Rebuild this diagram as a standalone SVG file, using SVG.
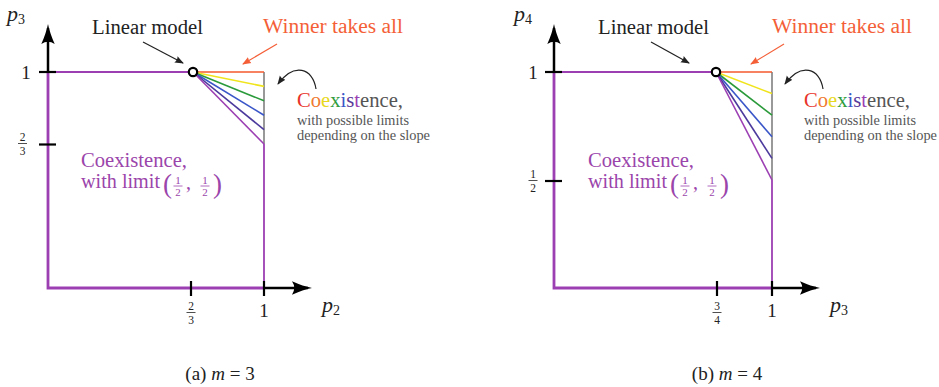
<svg xmlns="http://www.w3.org/2000/svg" width="939" height="387" viewBox="0 0 939 387" font-family="'Liberation Serif', 'DejaVu Serif', 'Times New Roman', serif">
<defs>
<style>
text{font-family:'Liberation Serif','DejaVu Serif','Times New Roman',serif;}
.t20{font-size:20px;}
.blk{fill:#222;}
.pur{fill:#9b45ab;}
.org{fill:#f45f38;}
.gry{fill:#555;font-size:14px;}
.it{font-style:italic;font-size:22px;fill:#222;}
.sub{font-size:14px;font-style:normal;}
.num{font-size:19px;fill:#222;text-anchor:middle;}
.fr{font-size:11.5px;fill:#222;text-anchor:middle;}
.frp{font-size:11px;fill:#9b45ab;text-anchor:middle;}
.cap{font-size:19px;fill:#222;text-anchor:middle;}
.par{font-size:27px;fill:#9b45ab;}
.axis{stroke:#000;stroke-width:2.5;fill:none;}
.tick{stroke:#000;stroke-width:2.2;}
.frame{stroke:#9c3fb3;stroke-width:2.8;fill:none;stroke-linejoin:miter;}
.thin{stroke:#9c3fb3;stroke-width:1.8;fill:none;}
.edge{stroke:#777;stroke-width:1.5;}
.ray{stroke-width:1.6;fill:none;}
.bar{stroke:#222;stroke-width:0.8;}
.barp{stroke:#9b45ab;stroke-width:0.8;}
.pt{fill:#fff;stroke:#000;stroke-width:2.2;}
.ann{stroke:#222;stroke-width:1.2;fill:none;}
.annO{stroke:#f45f38;stroke-width:1.2;fill:none;}
</style>
<marker id="ah" markerUnits="userSpaceOnUse" markerWidth="22" markerHeight="16" refX="16" refY="8" orient="auto">
<path d="M20,8 Q11,6.2 0,1.3 Q4.5,8 0,14.7 Q11,9.8 20,8Z" fill="#000"/>
</marker>
<marker id="sa" markerUnits="userSpaceOnUse" markerWidth="10" markerHeight="8" refX="8" refY="4" orient="auto">
<path d="M0,0.5 L9,4 L0,7.5 Q2,4 0,0.5Z" fill="#222"/>
</marker>
<marker id="so" markerUnits="userSpaceOnUse" markerWidth="10" markerHeight="8" refX="8" refY="4" orient="auto">
<path d="M0,0.5 L9,4 L0,7.5 Q2,4 0,0.5Z" fill="#f45f38"/>
</marker>
</defs>

<!-- Panel (a) -->
<g id="panel-a">
  <g id="a-region">
    <line class="edge" x1="264" y1="72" x2="264" y2="144"/>
    <line class="thin" x1="264" y1="144" x2="264" y2="288"/>
    <line class="thin" x1="48" y1="72" x2="193" y2="72"/>
    <line class="ray" stroke="#f4582c" x1="193" y1="72" x2="264" y2="72"/>
    <line class="ray" stroke="#f0e41c" x1="193" y1="72" x2="264" y2="86.4"/>
    <line class="ray" stroke="#2a9a3a" x1="193" y1="72" x2="264" y2="100.8"/>
    <line class="ray" stroke="#3a56c8" x1="193" y1="72" x2="264" y2="115.2"/>
    <line class="ray" stroke="#4c3a9c" x1="193" y1="72" x2="264" y2="129.6"/>
    <line class="ray" stroke="#9c3fb3" x1="193" y1="72" x2="264" y2="144"/>
  </g>
  <g id="a-axes">
    <line class="axis" x1="48" y1="72" x2="48" y2="28" marker-end="url(#ah)"/>
    <line class="axis" x1="264" y1="288" x2="308" y2="288" marker-end="url(#ah)"/>
    <polyline class="frame" points="48,72 48,288 264,288"/>
    <line class="tick" x1="39" y1="72" x2="56" y2="72"/>
    <line class="tick" x1="39" y1="144.5" x2="56" y2="144.5"/>
    <line class="tick" x1="191" y1="281" x2="191" y2="296"/>
    <line class="tick" x1="264" y1="281" x2="264" y2="296"/>
    <circle class="pt" cx="193" cy="72" r="4.2"/>
  </g>
  <g id="a-ticklabels">
    <text class="it" x="7" y="21">p<tspan class="sub" dy="3">3</tspan></text>
    <text class="num" x="26" y="79">1</text>
    <text class="fr" x="22.5" y="141">2</text>
    <line class="bar" x1="18" y1="143.5" x2="27" y2="143.5"/>
    <text class="fr" x="22.5" y="155">3</text>
    <text class="fr" x="191" y="310">2</text>
    <line class="bar" x1="186.5" y1="312.5" x2="195.5" y2="312.5"/>
    <text class="fr" x="191" y="324">3</text>
    <text class="num" x="264" y="317">1</text>
    <text class="it" x="322" y="312">p<tspan class="sub" dy="3">2</tspan></text>
  </g>
  <g id="a-linear">
    <text class="t20 blk" x="92" y="34" textLength="111" lengthAdjust="spacingAndGlyphs">Linear model</text>
  </g>
  <g id="a-winner">
    <text class="t20 org" x="263" y="33" textLength="140" lengthAdjust="spacingAndGlyphs">Winner takes all</text>
  </g>
  <g id="a-coexist-right">
    <text class="t20" x="297" y="107" textLength="106" lengthAdjust="spacingAndGlyphs"><tspan fill="#e8332a">C</tspan><tspan fill="#f07a30">o</tspan><tspan fill="#e8d820">e</tspan><tspan fill="#2f9d3c">x</tspan><tspan fill="#3a56c8">i</tspan><tspan fill="#5a3a9a">s</tspan><tspan fill="#9c3fb3">t</tspan><tspan fill="#555">ence,</tspan></text>
    <text class="gry" x="297" y="125" textLength="112" lengthAdjust="spacingAndGlyphs">with possible limits</text>
    <text class="gry" x="297" y="140" textLength="133" lengthAdjust="spacingAndGlyphs">depending on the slope</text>
  </g>
  <g id="a-coexist-left">
    <text class="t20 pur" x="81" y="167" textLength="106" lengthAdjust="spacingAndGlyphs">Coexistence,</text>
    <text class="t20 pur" x="81" y="188" textLength="79" lengthAdjust="spacingAndGlyphs">with limit</text>
    <text class="par" x="163" y="193">(</text>
    <text class="frp" x="178" y="183.5">1</text>
    <line class="barp" x1="173.5" y1="186" x2="182.5" y2="186"/>
    <text class="frp" x="178" y="196">2</text>
    <text class="t20 pur" x="186" y="189">,</text>
    <text class="frp" x="205" y="183.5">1</text>
    <line class="barp" x1="200.5" y1="186" x2="209.5" y2="186"/>
    <text class="frp" x="205" y="196">2</text>
    <text class="par" x="213" y="193">)</text>
  </g>
  <text class="cap" x="220" y="380">(a) <tspan font-style="italic">m</tspan> = 3</text>
</g>

<!-- Panel (b) -->
<g id="panel-b">
  <g id="b-region">
    <line class="edge" x1="772" y1="72" x2="772" y2="180"/>
    <line class="thin" x1="772" y1="180" x2="772" y2="288"/>
    <line class="thin" x1="554" y1="72" x2="716" y2="72"/>
    <line class="ray" stroke="#f4582c" x1="716" y1="72" x2="772" y2="72"/>
    <line class="ray" stroke="#f0e41c" x1="716" y1="72" x2="772" y2="93.6"/>
    <line class="ray" stroke="#2a9a3a" x1="716" y1="72" x2="772" y2="115.2"/>
    <line class="ray" stroke="#3a56c8" x1="716" y1="72" x2="772" y2="136.8"/>
    <line class="ray" stroke="#4c3a9c" x1="716" y1="72" x2="772" y2="158.4"/>
    <line class="ray" stroke="#9c3fb3" x1="716" y1="72" x2="772" y2="180"/>
  </g>
  <g id="b-axes">
    <line class="axis" x1="554" y1="72" x2="554" y2="28" marker-end="url(#ah)"/>
    <line class="axis" x1="772" y1="288" x2="816" y2="288" marker-end="url(#ah)"/>
    <polyline class="frame" points="554,72 554,288 772,288"/>
    <line class="tick" x1="545" y1="72" x2="562" y2="72"/>
    <line class="tick" x1="545" y1="181" x2="562" y2="181"/>
    <line class="tick" x1="717" y1="281" x2="717" y2="296"/>
    <line class="tick" x1="772" y1="281" x2="772" y2="296"/>
    <circle class="pt" cx="716" cy="72" r="4.2"/>
  </g>
  <g id="b-ticklabels">
    <text class="it" x="514" y="21">p<tspan class="sub" dy="3">4</tspan></text>
    <text class="num" x="533" y="79">1</text>
    <text class="fr" x="533" y="178">1</text>
    <line class="bar" x1="528.5" y1="180.5" x2="537.5" y2="180.5"/>
    <text class="fr" x="533" y="192">2</text>
    <text class="fr" x="717" y="310">3</text>
    <line class="bar" x1="712.5" y1="312.5" x2="721.5" y2="312.5"/>
    <text class="fr" x="717" y="324">4</text>
    <text class="num" x="772" y="317">1</text>
    <text class="it" x="830" y="312">p<tspan class="sub" dy="3">3</tspan></text>
  </g>
  <g id="b-linear">
    <text class="t20 blk" x="598" y="34" textLength="111" lengthAdjust="spacingAndGlyphs">Linear model</text>
  </g>
  <g id="b-winner">
    <text class="t20 org" x="772" y="33" textLength="140" lengthAdjust="spacingAndGlyphs">Winner takes all</text>
  </g>
  <g id="b-coexist-right">
    <text class="t20" x="804" y="107" textLength="106" lengthAdjust="spacingAndGlyphs"><tspan fill="#e8332a">C</tspan><tspan fill="#f07a30">o</tspan><tspan fill="#e8d820">e</tspan><tspan fill="#2f9d3c">x</tspan><tspan fill="#3a56c8">i</tspan><tspan fill="#5a3a9a">s</tspan><tspan fill="#9c3fb3">t</tspan><tspan fill="#555">ence,</tspan></text>
    <text class="gry" x="804" y="125" textLength="112" lengthAdjust="spacingAndGlyphs">with possible limits</text>
    <text class="gry" x="804" y="140" textLength="133" lengthAdjust="spacingAndGlyphs">depending on the slope</text>
  </g>
  <g id="b-coexist-left">
    <text class="t20 pur" x="588" y="167" textLength="106" lengthAdjust="spacingAndGlyphs">Coexistence,</text>
    <text class="t20 pur" x="588" y="188" textLength="79" lengthAdjust="spacingAndGlyphs">with limit</text>
    <text class="par" x="670" y="193">(</text>
    <text class="frp" x="685" y="183.5">1</text>
    <line class="barp" x1="680.5" y1="186" x2="689.5" y2="186"/>
    <text class="frp" x="685" y="196">2</text>
    <text class="t20 pur" x="693" y="189">,</text>
    <text class="frp" x="712" y="183.5">1</text>
    <line class="barp" x1="707.5" y1="186" x2="716.5" y2="186"/>
    <text class="frp" x="712" y="196">2</text>
    <text class="par" x="720" y="193">)</text>
  </g>
  <text class="cap" x="727" y="380">(b) <tspan font-style="italic">m</tspan> = 4</text>
</g>

<g id="connectors">
  <line class="ann" x1="143" y1="42" x2="183" y2="63" marker-end="url(#sa)"/>
  <line class="annO" x1="277" y1="44" x2="243" y2="64" marker-end="url(#so)"/>
  <path class="ann" d="M316,89 C313,68 294,62 278,84" marker-end="url(#sa)"/>
  <line class="ann" x1="651" y1="42" x2="689" y2="63" marker-end="url(#sa)"/>
  <line class="annO" x1="784" y1="44" x2="751" y2="64" marker-end="url(#so)"/>
  <path class="ann" d="M823,89 C820,68 801,62 785,84" marker-end="url(#sa)"/>
</g>
</svg>
